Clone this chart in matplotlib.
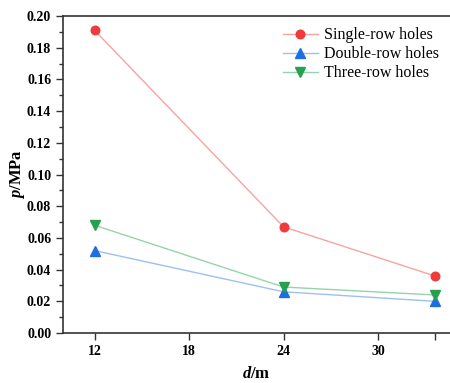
import matplotlib
matplotlib.use("Agg")
import matplotlib.pyplot as plt
from matplotlib.ticker import MultipleLocator, FixedLocator, FormatStrFormatter

plt.rcParams['font.family'] = ['Liberation Serif', 'DejaVu Serif']
plt.rcParams['mathtext.fontset'] = 'custom'
plt.rcParams['mathtext.it'] = 'Liberation Serif:italic:bold'
plt.rcParams['mathtext.rm'] = 'Liberation Serif:bold'

# Distance d (m) and pressure p (MPa) for each hole layout
d = [12, 24, 33.6]
single_row = [0.191, 0.067, 0.036]
double_row = [0.052, 0.026, 0.020]
three_row = [0.068, 0.029, 0.024]
series_names = ["Single-row holes", "Double-row holes", "Three-row holes"]
x_ticks = [12, 18, 24, 30, 33.6]
x_tick_labels = ["12", "18", "24", "30", ""]

fig = plt.figure(figsize=(4.5, 3.83), dpi=100)
ax = fig.add_axes([63 / 450, 1 - 333 / 383, (450 - 63) / 450, (333 - 16) / 383])

styles = [
    (single_row, "o", "#f03a3c", "#f7a3a4", 6.2),
    (double_row, "^", "#1f6ee0", "#9cc0f2", 7),
    (three_row, "v", "#27a050", "#95d4aa", 7),
]
for (vals, mk, c, lc, ms), name in zip(styles, series_names):
    ax.plot(d, vals, color=lc, lw=1.0, marker=mk, ms=ms, mfc=c, mec=c,
            label=name)

ax.set_xlim(10, 34.57)
ax.set_ylim(0, 0.20)

ax.xaxis.set_major_locator(FixedLocator(x_ticks))
ax.set_xticklabels(x_tick_labels)
ax.yaxis.set_major_locator(MultipleLocator(0.02))
ax.yaxis.set_minor_locator(MultipleLocator(0.01))
ax.yaxis.set_major_formatter(FormatStrFormatter('%.2f'))

ax.tick_params(axis='both', which='major', direction='out', length=5, width=1,
               labelsize=10, color='#333333')
ax.tick_params(axis='y', which='minor', direction='out', length=3, width=1,
               color='#333333')
for lab in ax.get_xticklabels() + ax.get_yticklabels():
    lab.set_fontweight('bold')

for s in ['left', 'bottom', 'top']:
    ax.spines[s].set_linewidth(1.2)
    ax.spines[s].set_color('#333333')
ax.spines['right'].set_visible(False)

ax.set_xlabel(r'$\mathit{d}$/m', fontsize=12, fontweight='bold', labelpad=6)
ax.set_ylabel(r'$\mathit{p}$/MPa', fontsize=12, fontweight='bold')
ax.yaxis.set_label_coords(-0.094, 0.5)

ax.legend(loc='upper left', bbox_to_anchor=(0.568, 0.965), frameon=False,
          fontsize=11.5, handlelength=2.2, handletextpad=0.35,
          labelspacing=0.2, borderaxespad=0, borderpad=0)

fig.savefig("out.png", dpi=100)
